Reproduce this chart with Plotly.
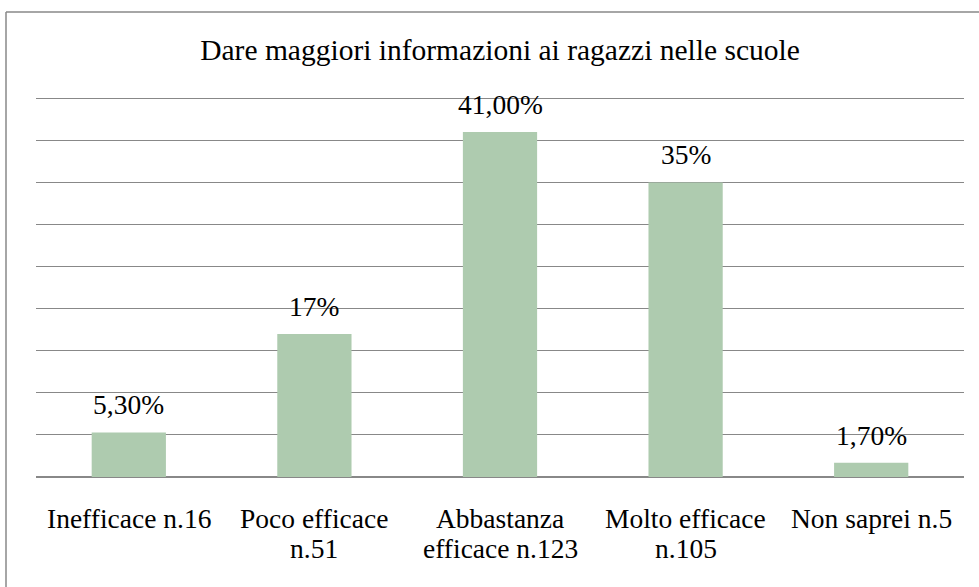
import plotly.graph_objects as go

categories = ["Inefficace n.16", "Poco efficace<br>n.51", "Abbastanza<br>efficace n.123",
              "Molto efficace<br>n.105", "Non saprei n.5"]
values = [5.3, 17, 41, 35, 1.7]
value_labels = ["5,30%", "17%", "41,00%", "35%", "1,70%"]
title_text = "Dare maggiori informazioni ai ragazzi nelle scuole"

FONT = "Liberation Serif"
W, H = 979, 587
L, R, T, B = 36, 15, 94, 110
YMAX = 45.5

fig = go.Figure()
fig.add_trace(go.Bar(
    x=categories, y=values,
    marker=dict(color="#AECBAF", line=dict(width=0)),
    hoverinfo="skip",
))

# value labels above bars
for c, v, lab in zip(categories, values, value_labels):
    fig.add_annotation(x=c, y=v, text=lab, showarrow=False, yanchor="bottom",
                       yshift=10, font=dict(family=FONT, size=27.5, color="#000000"))

px_w = W - L - R
px_h = H - T - B
def xp(px):
    return (px - L) / px_w
def yp(py):
    return (H - B - py) / px_h

# category labels (tighter line spacing than plotly's default)
line_y = [518, 548]
for c in categories:
    for i, part in enumerate(c.split("<br>")):
        fig.add_annotation(x=c, xref="x", y=yp(line_y[i]), yref="paper", text=part,
                           showarrow=False, yanchor="middle",
                           font=dict(family=FONT, size=27.5, color="#000000"))

fig.update_layout(
    width=W, height=H,
    margin=dict(l=L, r=R, t=T, b=B, pad=0),
    paper_bgcolor="white", plot_bgcolor="white",
    bargap=0.6,
    showlegend=False,
    title=dict(text=title_text, x=0.5, xanchor="center", xref="paper",
               y=1 - 50 / H, yanchor="middle",
               font=dict(family=FONT, size=29.5, color="#000000")),
    xaxis=dict(showgrid=False, zeroline=False, showline=False, ticks="",
               showticklabels=False),
    yaxis=dict(range=[0, YMAX], dtick=5, showgrid=True, gridcolor="#888888", gridwidth=1.3,
               showticklabels=False, zeroline=True, zerolinecolor="#888888", zerolinewidth=1.5,
               showline=False, ticks=""),
)

# chart-area border (left and top edges visible)
fig.add_shape(type="line", xref="paper", yref="paper", x0=xp(6), x1=xp(6), y0=yp(12), y1=yp(H + 5),
              line=dict(color="#888888", width=1.5))
fig.add_shape(type="line", xref="paper", yref="paper", x0=xp(6), x1=xp(W + 5), y0=yp(12), y1=yp(12),
              line=dict(color="#888888", width=1.5))

fig.write_html("out.html", config={"displayModeBar": False},
               post_script="document.body.style.margin='0';")
